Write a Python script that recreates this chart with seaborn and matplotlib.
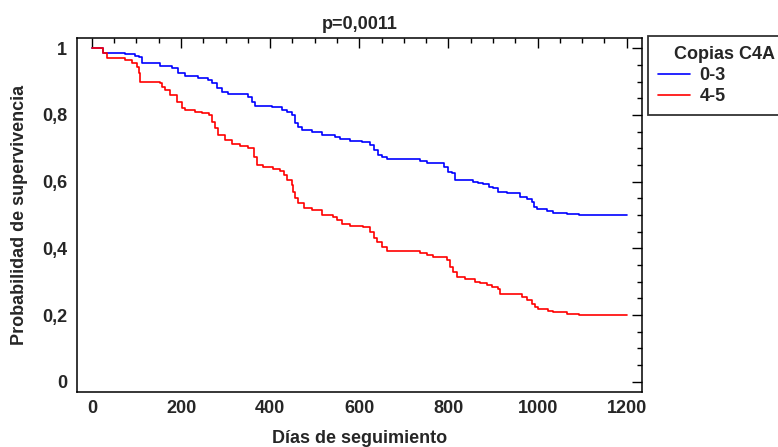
import pandas as pd
import seaborn as sns
import matplotlib.pyplot as plt
from matplotlib.ticker import MultipleLocator, FuncFormatter

# Kaplan-Meier curves (step changes)
days_03 = [0, 26, 75, 97, 105, 112, 153, 179, 194, 209, 238, 261, 269, 280, 292, 306, 351, 359, 366,
           404, 426, 437, 449, 456, 463, 471, 493, 516, 546, 557, 579, 606, 624, 632, 643, 650, 662,
           736, 751, 789, 800, 807, 815, 856, 867, 878, 890, 901, 912, 931, 961, 976, 987, 991, 998,
           1021, 1035, 1066, 1092, 1200]
surv_03 = [1.0, 0.987, 0.983, 0.978, 0.973, 0.955, 0.947, 0.94, 0.925, 0.917, 0.91, 0.905, 0.895, 0.88,
           0.87, 0.863, 0.855, 0.84, 0.827, 0.823, 0.815, 0.81, 0.8, 0.775, 0.763, 0.755, 0.748, 0.74,
           0.735, 0.728, 0.723, 0.72, 0.71, 0.695, 0.68, 0.673, 0.667, 0.663, 0.657, 0.645, 0.63, 0.625,
           0.605, 0.6, 0.597, 0.592, 0.585, 0.58, 0.57, 0.565, 0.555, 0.547, 0.54, 0.525, 0.517, 0.513,
           0.507, 0.503, 0.5, 0.5]

days_45 = [0, 26, 34, 75, 90, 101, 105, 108, 153, 157, 164, 176, 191, 202, 209, 232, 247, 262, 269,
           277, 284, 299, 314, 333, 351, 363, 370, 385, 407, 422, 430, 437, 449, 452, 456, 463, 475,
           493, 516, 542, 550, 561, 579, 609, 624, 632, 639, 650, 662, 736, 751, 766, 796, 804, 811,
           819, 837, 860, 871, 886, 897, 912, 916, 965, 976, 987, 994, 1002, 1024, 1035, 1066, 1092, 1200]
surv_45 = [1.0, 0.985, 0.97, 0.965, 0.957, 0.945, 0.925, 0.9, 0.897, 0.885, 0.875, 0.86, 0.84, 0.82,
           0.815, 0.81, 0.805, 0.8, 0.78, 0.76, 0.74, 0.725, 0.713, 0.707, 0.7, 0.675, 0.65, 0.643,
           0.637, 0.633, 0.62, 0.605, 0.59, 0.57, 0.55, 0.535, 0.52, 0.515, 0.5, 0.495, 0.485, 0.473,
           0.467, 0.463, 0.45, 0.43, 0.42, 0.405, 0.393, 0.387, 0.38, 0.375, 0.365, 0.345, 0.33, 0.315,
           0.307, 0.3, 0.295, 0.29, 0.285, 0.277, 0.263, 0.255, 0.245, 0.233, 0.223, 0.217, 0.213,
           0.208, 0.203, 0.2, 0.2]

groups = ["0-3", "4-5"]
colors = {"0-3": "#0000ff", "4-5": "#ff0000"}

df = pd.concat([
    pd.DataFrame({"dias": days_03, "surv": surv_03, "grupo": groups[0]}),
    pd.DataFrame({"dias": days_45, "surv": surv_45, "grupo": groups[1]}),
])

sns.set_style("white")
plt.rcParams["font.family"] = ["Liberation Sans", "DejaVu Sans"]
plt.rcParams["font.weight"] = "bold"
FS = 13

fig = plt.figure(figsize=(7.78, 4.47), dpi=100)
ax = fig.add_axes([0.0986, 0.1237, 0.727, 0.7906])

sns.lineplot(data=df, x="dias", y="surv", hue="grupo", palette=colors, estimator=None,
             drawstyle="steps-post", linewidth=1.2, ax=ax, legend=False)

ax.set_xlim(-34, 1235)
ax.set_ylim(-0.03, 1.03)
ax.xaxis.set_major_locator(MultipleLocator(200))
ax.xaxis.set_minor_locator(MultipleLocator(50))
ax.yaxis.set_major_locator(MultipleLocator(0.2))
ax.yaxis.set_minor_locator(MultipleLocator(0.05))
ax.yaxis.set_major_formatter(FuncFormatter(lambda v, p: ("%g" % round(v, 2)).replace(".", ",")))

for s in ax.spines.values():
    s.set_visible(True)
    s.set_color("black")
    s.set_linewidth(1.1)
ax.tick_params(which="both", direction="in", top=True, right=True, color="black", width=1.0,
               labelsize=FS)
ax.tick_params(axis="y", pad=7)
ax.tick_params(axis="x", pad=6)
ax.tick_params(which="major", length=7)
ax.tick_params(which="minor", length=3.5)
for lab in ax.get_xticklabels() + ax.get_yticklabels():
    lab.set_fontweight("bold")

ax.set_title("p=0,0011", fontsize=FS, fontweight="bold", pad=7)
ax.set_xlabel("Días de seguimiento", fontsize=FS, fontweight="bold", labelpad=9)
ax.set_ylabel("Probabilidad de supervivencia", fontsize=FS, fontweight="bold", labelpad=10)

handles = [plt.Line2D([], [], color=colors[g], linewidth=1.2) for g in groups]
leg = fig.legend(handles, groups, title="Copias C4A", loc="upper left",
                 bbox_to_anchor=(648 / 778, 1 - 36 / 447, 153 / 778, 0), mode="expand",
                 frameon=True, fancybox=False,
                 fontsize=FS, title_fontsize=FS, handlelength=1.75, handletextpad=0.55,
                 borderpad=0.55, labelspacing=0.22, borderaxespad=0)
leg.get_frame().set_edgecolor("black")
leg.get_frame().set_linewidth(1.3)
leg.get_title().set_fontweight("bold")
for t in leg.get_texts():
    t.set_fontweight("bold")

fig.savefig("out.png", dpi=100)
